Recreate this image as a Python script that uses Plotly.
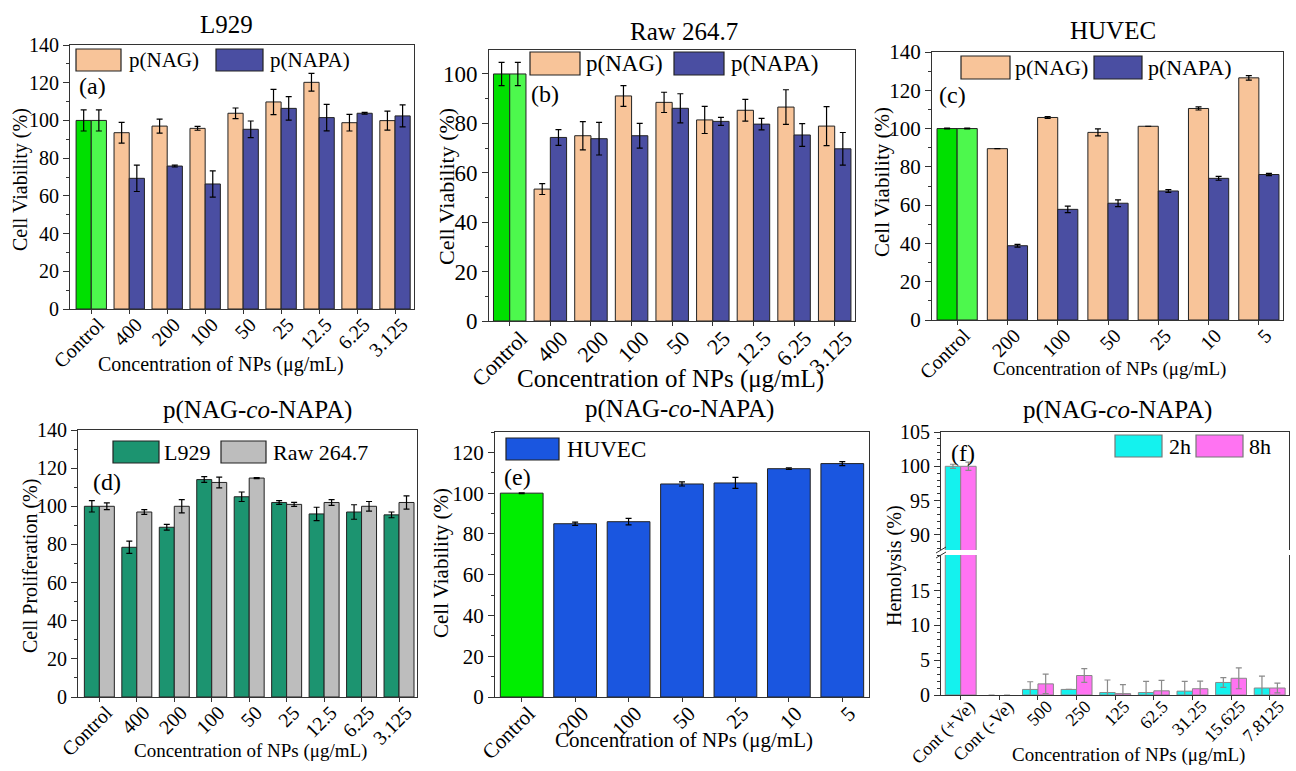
import plotly.graph_objects as go

W, H = 1296, 771
FONT = "Liberation Serif, Times New Roman, serif"

# ---------------- data ----------------
cat_a = ["Control", "400", "200", "100", "50", "25", "12.5", "6.25", "3.125"]
nag_a = [100, 93.5, 97.0, 95.8, 103.8, 109.8, 120.2, 98.8, 99.9]
nag_a_err = [5.6, 5.5, 3.7, 1.0, 2.8, 6.7, 4.7, 4.4, 5.0]
napa_a = [100, 69.3, 75.8, 66.3, 95.3, 106.4, 101.5, 103.8, 102.4]
napa_a_err = [5.6, 7.0, 0.5, 7.0, 4.4, 6.2, 7.0, 0.5, 5.8]

cat_b = ["Control", "400", "200", "100", "50", "25", "12.5", "6.25", "3.125"]
nag_b = [100, 53.4, 75.0, 91.1, 88.5, 81.4, 85.3, 86.6, 78.9]
nag_b_err = [4.7, 2.2, 5.7, 4.2, 4.1, 5.5, 4.4, 7.0, 7.9]
napa_b = [100, 74.3, 73.8, 75.0, 86.1, 80.8, 79.7, 75.3, 69.7]
napa_b_err = [4.7, 3.2, 6.6, 5.0, 5.9, 1.6, 2.3, 4.6, 6.6]

cat_c = ["Control", "200", "100", "50", "25", "10", "5"]
nag_c = [100, 89.5, 105.8, 98.0, 101.2, 110.5, 126.5]
nag_c_err = [0.2, 0.0, 0.5, 1.8, 0.0, 0.8, 1.2]
napa_c = [100, 38.8, 57.8, 61.0, 67.4, 74.0, 76.0]
napa_c_err = [0.2, 0.7, 1.7, 1.8, 0.7, 1.0, 0.6]

cat_d = ["Control", "400", "200", "100", "50", "25", "12.5", "6.25", "3.125"]
l929_d = [100, 78.5, 89.0, 114.0, 105.0, 102.0, 96.0, 97.0, 95.5]
l929_d_err = [3.0, 3.2, 1.5, 1.5, 2.5, 1.0, 3.5, 3.8, 1.5]
raw_d = [100, 97.0, 100.0, 112.5, 114.8, 101.0, 102.0, 100.0, 102.0]
raw_d_err = [1.8, 1.2, 3.5, 2.8, 0.3, 1.0, 1.5, 2.5, 3.5]

cat_e = ["Control", "200", "100", "50", "25", "10", "5"]
huvec_e = [100, 85.0, 86.0, 104.5, 105.0, 112.0, 114.5]
huvec_e_err = [0.2, 0.8, 1.6, 1.0, 2.7, 0.4, 1.0]

cat_f = ["Cont (+Ve)", "Cont (-Ve)", "500", "250", "125", "62.5", "31.25", "15.625", "7.8125"]
h2_f = [100, 0, 0.8, 0.8, 0.35, 0.35, 0.55, 1.8, 1.0]
h2_f_err = [0.3, 0, 1.1, 0, 1.8, 1.6, 1.4, 0.7, 1.7]
h8_f = [100, 0, 1.6, 2.8, 0.2, 0.6, 0.9, 2.4, 1.0]
h8_f_err = [0.6, 0, 1.4, 1.0, 1.3, 1.5, 1.1, 1.5, 0.7]

# ---------------- styles ----------------
PEACH = "#F8C499"
NAPA = "#4A4EA2"
GREEN1 = "#00E000"
GREEN2 = "#4DF84D"
TEAL = "#1C9470"
GRAY = "#BDBDBD"
BLUE = "#1A56E0"
GREEN_E = "#00EE00"
CYAN = "#14F2EE"
MAGENTA = "#FF73F2"


def px(x):
    return x / W


def py(y):
    return 1 - y / H


def xd(a, b):
    return [px(a), px(b)]


def yd(top, bottom):
    return [py(bottom), py(top)]


def bar(x, y, err, colors, xa, ya, line="#222", ecol="black"):
    widths = [0 if v == 0 else 1 for v in y]
    return go.Bar(
        x=x, y=y, xaxis=xa, yaxis=ya, showlegend=False,
        marker=dict(color=colors, line=dict(color=line, width=widths)),
        error_y=dict(type="data", array=err, color=ecol, thickness=1.2,
                     width=3, visible=True),
    )


fig = go.Figure()

# (a)
fig.add_trace(bar(cat_a, nag_a, nag_a_err, [GREEN1] + [PEACH] * 8, "x", "y"))
fig.add_trace(bar(cat_a, napa_a, napa_a_err, [GREEN2] + [NAPA] * 8, "x", "y"))
# (b)
fig.add_trace(bar(cat_b, nag_b, nag_b_err, [GREEN1] + [PEACH] * 8, "x2", "y2"))
fig.add_trace(bar(cat_b, napa_b, napa_b_err, [GREEN2] + [NAPA] * 8, "x2", "y2"))
# (c)
fig.add_trace(bar(cat_c, nag_c, nag_c_err, [GREEN1] + [PEACH] * 6, "x3", "y3"))
fig.add_trace(bar(cat_c, napa_c, napa_c_err, [GREEN2] + [NAPA] * 6, "x3", "y3"))
# (d)
fig.add_trace(bar(cat_d, l929_d, l929_d_err, TEAL, "x4", "y4"))
fig.add_trace(bar(cat_d, raw_d, raw_d_err, GRAY, "x4", "y4"))
# (e)
fig.add_trace(bar(cat_e, huvec_e, huvec_e_err, [GREEN_E] + [BLUE] * 6, "x5", "y5"))
# (f) lower and upper (broken axis)
for xa, ya in (("x6", "y6"), ("x7", "y7")):
    fig.add_trace(bar(cat_f, h2_f, h2_f_err, CYAN, xa, ya, line="#888", ecol="#8A8A8A"))
    fig.add_trace(bar(cat_f, h8_f, h8_f_err, MAGENTA, xa, ya, line="#888", ecol="#8A8A8A"))

LC = "#333"


def xax(domain, rng, anchor, fs, **kw):
    d = dict(domain=domain, range=rng, anchor=anchor, type="category",
             tickangle=-45, ticks="outside", ticklen=4, tickcolor=LC,
             ticklabelstandoff=-9, ticklabelshift=7,
             showline=True, linecolor=LC, linewidth=1, mirror=True,
             showgrid=False, zeroline=False, automargin=False,
             tickfont=dict(family=FONT, size=fs, color="black"))
    d.update(kw)
    return d


def yax(domain, rng, anchor, fs, dtick, minor, **kw):
    d = dict(domain=domain, range=rng, anchor=anchor, ticks="outside",
             ticklen=6, tickcolor=LC, tick0=0, dtick=dtick,
             minor=dict(ticks="outside", ticklen=3, dtick=minor, tickcolor=LC),
             showline=True, linecolor=LC, linewidth=1, mirror=True,
             showgrid=False, zeroline=False, automargin=False,
             tickfont=dict(family=FONT, size=fs, color="black"))
    d.update(kw)
    return d


layout = dict(
    width=W, height=H, margin=dict(l=0, r=0, t=0, b=0),
    paper_bgcolor="white", plot_bgcolor="white",
    barmode="group", bargap=0.2, bargroupgap=0,
    font=dict(family=FONT, color="black"),
    xaxis=xax(xd(70, 414), [-0.56, 8.5], "y", 20),
    yaxis=yax(yd(45, 309), [0, 140], "x", 20, 20, 10),
    xaxis2=xax(xd(489, 855), [-0.51, 8.5], "y2", 22, ticklabelshift=11),
    yaxis2=yax(yd(50, 321), [0, 109.7], "x2", 23, 20, 10),
    xaxis3=xax(xd(932, 1283), [-0.5, 6.48], "y3", 20),
    yaxis3=yax(yd(52, 320), [0, 140], "x3", 21, 20, 10),
    xaxis4=xax(xd(78, 417), [-0.57, 8.48], "y4", 20),
    yaxis4=yax(yd(430, 697), [0, 140], "x4", 20, 20, 10),
    xaxis5=xax(xd(495, 869), [-0.5, 6.5], "y5", 21),
    yaxis5=yax(yd(432, 697), [0, 130], "x5", 21, 20, 10),
    xaxis6=xax(xd(941, 1289), [-0.51, 8.5], "y6", 18, mirror=False,
               ticklabelstandoff=-11, ticklabelshift=9),
    yaxis6=yax(yd(555, 695), [0, 20.1], "x6", 20, 5, 1, tickvals=[0, 5, 10, 15]),
    xaxis7=xax(xd(941, 1289), [-0.51, 8.5], "y7", 18, mirror=False, side="top",
               showticklabels=False, ticks=""),
    yaxis7=yax(yd(432, 550), [87.8, 105], "x7", 20, 5, 1, tickvals=[90, 95, 100, 105]),
)
fig.update_layout(**layout)

ann = []


def text(x, y, s, size, angle=0, xanchor="center"):
    ann.append(dict(x=px(x), y=py(y), xref="paper", yref="paper", text=s,
                    showarrow=False, xanchor=xanchor, yanchor="middle",
                    textangle=angle, font=dict(family=FONT, size=size, color="black")))


# titles
text(226, 24, "L929", 25)
text(684, 32, "Raw 264.7", 25)
text(1113, 31, "HUVEC", 25)
text(257, 410, "p(NAG-<i>co</i>-NAPA)", 25)
text(679, 409, "p(NAG-<i>co</i>-NAPA)", 25)
text(1117, 410, "p(NAG-<i>co</i>-NAPA)", 25)

# y-axis titles
text(20, 180, "Cell Viability (%)", 20, -90)
text(446, 186, "Cell Viability (%)", 22, -90)
text(882, 182, "Cell Viability (%)", 21, -90)
text(30, 566, "Cell Proliferation (%)", 20, -90)
text(441, 563, "Cell Viability (%)", 21, -90)
text(894, 565, "Hemolysis (%)", 20, -90)

# x-axis titles
text(221, 364, "Concentration of NPs (μg/mL)", 20)
text(670, 379, "Concentration of NPs (μg/mL)", 25)
text(1109, 369, "Concentration of NPs (μg/mL)", 19)
text(250, 751, "Concentration of NPs (μg/mL)", 19)
text(684, 740, "Concentration of NPs (μg/mL)", 21)
text(1128, 755, "Concentration of NPs (μg/mL)", 19)

# panel letters
text(92, 86, "(a)", 24)
text(545, 94, "(b)", 24)
text(952, 95, "(c)", 24)
text(107, 482, "(d)", 24)
text(517, 477, "(e)", 24)
text(963, 453, "(f)", 24)

shapes = []


def legend_box(x0, x1, y0, y1, color, label, tx, size, line="#222"):
    shapes.append(dict(type="rect", xref="paper", yref="paper",
                       x0=px(x0), x1=px(x1), y0=py(y1), y1=py(y0),
                       fillcolor=color, line=dict(color=line, width=1.2)))
    text(tx, (y0 + y1) / 2, label, size, xanchor="left")


legend_box(76, 121, 49, 71, PEACH, "p(NAG)", 127, 21)
legend_box(216, 263, 49, 71, NAPA, "p(NAPA)", 268, 21)
legend_box(530, 580, 52, 75, PEACH, "p(NAG)", 584, 23)
legend_box(674, 724, 52, 75, NAPA, "p(NAPA)", 729, 23)
legend_box(961, 1010, 56, 79, PEACH, "p(NAG)", 1013, 22)
legend_box(1094, 1142, 56, 79, NAPA, "p(NAPA)", 1146, 22)
legend_box(113, 159, 441, 463, TEAL, "L929", 162, 22)
legend_box(221, 266, 441, 463, GRAY, "Raw 264.7", 271, 22)
legend_box(506, 559, 438, 460, BLUE, "HUVEC", 565, 23)
legend_box(1115, 1162, 435, 457, CYAN, "2h", 1167, 22, line="#777")
legend_box(1196, 1243, 435, 457, MAGENTA, "8h", 1247, 22, line="#777")

# axis-break marks on (f)
for yb in (550, 555):
    shapes.append(dict(type="line", xref="paper", yref="paper",
                       x0=px(936), x1=px(946), y0=py(yb + 3), y1=py(yb - 3),
                       line=dict(color=LC, width=1)))

fig.update_layout(annotations=ann, shapes=shapes)
fig.write_html("out.html")
